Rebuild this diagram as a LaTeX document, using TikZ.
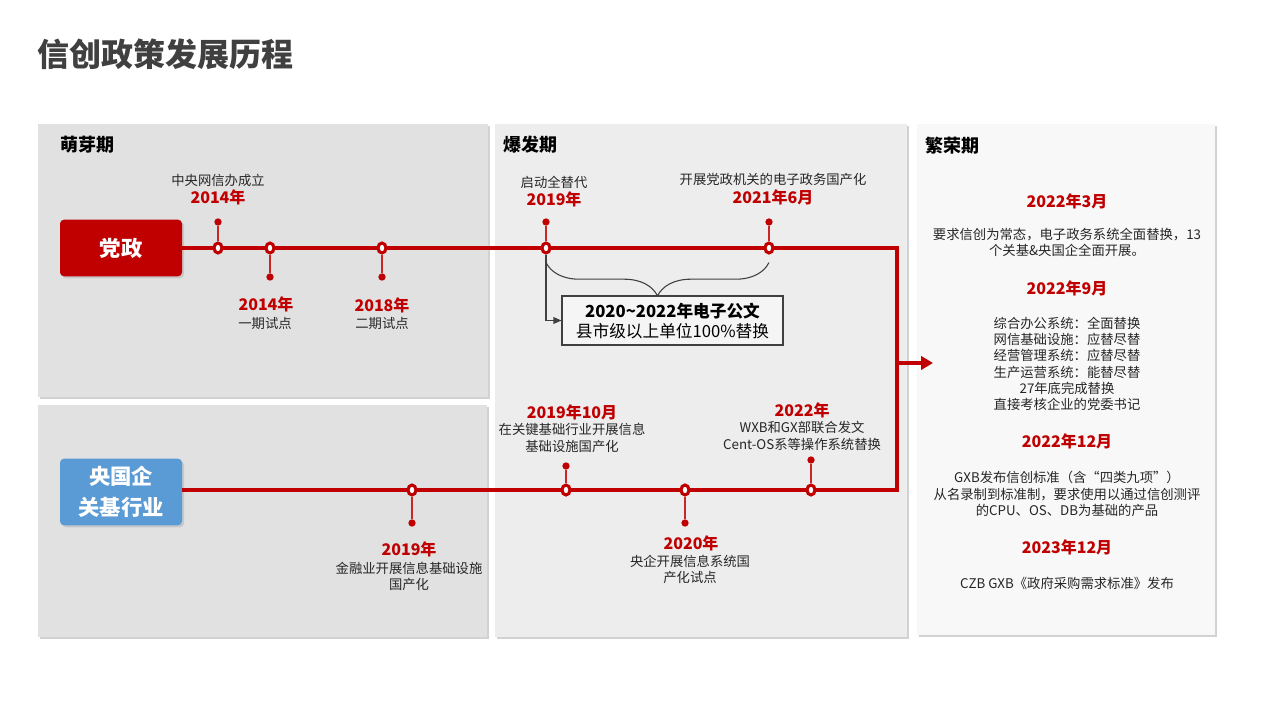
\documentclass[tikz,border=0pt]{standalone}
\usepackage{fontspec}
\setmainfont{Noto Sans CJK SC}
\usetikzlibrary{arrows.meta,positioning,shadows,decorations.pathreplacing,shapes.geometric}
\definecolor{dzred}{HTML}{C00000}
\definecolor{yqblue}{HTML}{5B9BD5}
\definecolor{inkgray}{HTML}{404040}
\definecolor{panelA}{HTML}{E1E1E1}
\definecolor{panelB}{HTML}{EDEDED}
\definecolor{panelC}{HTML}{F8F8F8}

\begin{document}
\begin{tikzpicture}[x=0.75pt,y=-0.75pt, panel/.style={drop shadow={shadow xshift=1.8pt,shadow yshift=-1.8pt,opacity=0.25,fill=black!70}}, headline/.style={anchor=west,inner sep=0pt,text=inkgray,font=\fontsize{24}{28}\selectfont\bfseries}, stage/.style={anchor=west,inner sep=0pt,font=\fontsize{13.5}{16}\selectfont\bfseries}, lead/.style={rounded corners=3pt,fill=dzred,text=white,align=center,font=\fontsize{16}{23}\selectfont\bfseries,minimum width=91.5pt,minimum height=42.5pt,drop shadow={shadow xshift=1.5pt,shadow yshift=-1.5pt,opacity=0.25}}, mainline/.style={draw=dzred,line width=3.2pt}, redarrow/.style={draw=dzred,line width=3pt,-{Triangle[length=9pt,width=10pt]}}, ring/.style={ellipse,draw=dzred,line width=2.3pt,fill=white,inner sep=0pt,minimum width=6pt,minimum height=7.5pt}, bead/.style={circle,fill=dzred,inner sep=0pt,minimum size=5.5pt}, stem/.style={draw=dzred!85,line width=1pt}, year/.style={inner sep=0pt,text=dzred,font=\fontsize{12}{14}\selectfont\bfseries}, note/.style={inner sep=0pt,align=center,text=black!85,font=\fontsize{10}{12.2}\selectfont}, docbox/.style={draw=inkgray,fill=black!4,line width=0.8pt,align=center,minimum width=165.75pt,minimum height=36.75pt,font=\fontsize{12.5}{15}\selectfont}, bracket/.style={draw=inkgray,line width=0.8pt,decorate,decoration={brace,mirror,amplitude=25pt}}, link/.style={draw=inkgray,line width=0.8pt,-{Triangle[length=6pt,width=5pt]}}]
\useasboundingbox[fill=white] (0,0) rectangle (1280,720);
\path[panel,fill=panelA] (38,124) rectangle (488,397);
\path[panel,fill=panelA] (38,405) rectangle (487,637);
\path[panel,fill=panelB] (495,124) rectangle (907,637);
\path[panel,fill=panelC] (917,124) rectangle (1215,635);
\node[headline] (ttl) at (37,54) {信创政策发展历程};
\node[stage] (s1) at (60,145) {萌芽期};
\node[stage] (s2) at (503,145) {爆发期};
\node[stage] (s3) at (925,146) {繁荣期};
\node[lead] (dz) at (121,248) {党政};
\node[lead,fill=yqblue,minimum height=50pt] (yq) at (121,492) {央国企\\关基行业};
\coordinate (tr) at (897,248); \coordinate (br) at (897,490); \coordinate (mid) at (897,363); \coordinate (tip) at (933,363);
\draw[mainline] (dz.east) -- (dz.east -| tr) -- (br) -- (br -| yq.east);
\draw[redarrow] (mid) -- (tip);
\node[ring] (a1) at (218,248) {}; \node[ring] (a2) at (270,248) {}; \node[ring] (a3) at (382,248) {}; \node[ring] (a4) at (546,248) {}; \node[ring] (a5) at (769,248) {};
\node[bead] (b1) at (218,222) {}; \node[bead] (b2) at (270,277) {}; \node[bead] (b3) at (382,277) {}; \node[bead] (b4) at (546,222) {}; \node[bead] (b5) at (769,222) {};
\draw[stem] (a1)--(b1); \draw[stem] (a2)--(b2); \draw[stem] (a3)--(b3); \draw[stem] (a4)--(b4); \draw[stem] (a5)--(b5);
\node[ring] (c1) at (412,490) {}; \node[ring] (c2) at (566,490) {}; \node[ring] (c3) at (685,490) {}; \node[ring] (c4) at (811,490) {};
\node[bead] (e1) at (412,523) {}; \node[bead] (e2) at (566,466) {}; \node[bead] (e3) at (685,523) {}; \node[bead] (e4) at (811,460) {};
\draw[stem] (c1)--(e1); \draw[stem] (c2)--(e2); \draw[stem] (c3)--(e3); \draw[stem] (c4)--(e4);
\node[note] (n1) at (218,180) {中央网信办成立}; \node[year] (y1) at (218,197) {2014年};
\node[year] (y2) at (266,304) {2014年}; \node[note] (n2) at (265,323) {一期试点};
\node[year] (y3) at (382,305) {2018年}; \node[note] (n3) at (382,323) {二期试点};
\node[note] (n4) at (554,182) {启动全替代}; \node[year] (y4) at (554,199) {2019年};
\node[note] (n5) at (773,179) {开展党政机关的电子政务国产化}; \node[year] (y5) at (773,197) {2021年6月};
\draw[bracket] ([yshift=-6pt]a4.south) -- ([yshift=-6pt]a5.south);
\node[docbox] (db) at (672.5,320.5) {\textbf{2020\textasciitilde 2022年电子公文}\\县市级以上单位100\%替换};
\draw[link] (a4.south) |- (db.west);
\node[year] (y6) at (409,549) {2019年}; \node[note] (n6) at (409,576.5) {金融业开展信息基础设施\\国产化};
\node[year] (y7) at (572,412) {2019年10月}; \node[note] (n7) at (572,438) {在关键基础行业开展信息\\基础设施国产化};
\node[year] (y8) at (691,543) {2020年}; \node[note] (n8) at (690,569.5) {央企开展信息系统国\\产化试点};
\node[year] (y9) at (802,410) {2022年}; \node[note] (n9) at (802,436) {WXB和GX部联合发文\\Cent-OS系等操作系统替换};
\node[year] (r1) at (1067,201) {2022年3月};
\node[note] (t1) at (1067,242.5) {要求信创为常态，电子政务系统全面替换，13\\个关基\&央国企全面开展。};
\node[year] (r2) at (1067,288) {2022年9月};
\node[note] (t2) at (1067,364) {综合办公系统：全面替换\\网信基础设施：应替尽替\\经营管理系统：应替尽替\\生产运营系统：能替尽替\\27年底完成替换\\直接考核企业的党委书记};
\node[year] (r3) at (1067,441) {2022年12月};
\node[note] (t3) at (1067,494) {GXB发布信创标准（含“四类九项”）\\从名录制到标准制，要求使用以通过信创测评\\的CPU、OS、DB为基础的产品};
\node[year] (r4) at (1067,547) {2023年12月};
\node[note] (t4) at (1067,583) {CZB GXB《政府采购需求标准》发布};
\end{tikzpicture}
\end{document}
